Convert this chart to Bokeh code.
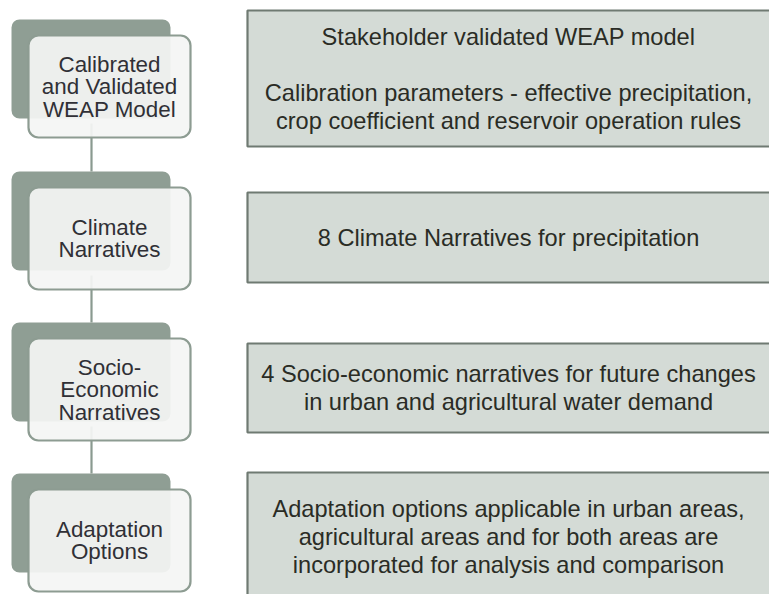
from bokeh.plotting import figure
from bokeh.models import ColumnDataSource, Range1d
from bokeh.core.properties import value
from bokeh.embed import file_html
from bokeh.resources import INLINE

# ---- content ----
step_labels = [
    ["Calibrated", "and Validated", "WEAP Model"],
    ["Climate", "Narratives"],
    ["Socio-", "Economic", "Narratives"],
    ["Adaptation", "Options"],
]
detail_labels = [
    ["Stakeholder validated WEAP model", "",
     "Calibration parameters - effective precipitation,",
     "crop coefficient and reservoir operation rules"],
    ["8 Climate Narratives for precipitation"],
    ["4 Socio-economic narratives for future changes",
     "in urban and agricultural water demand"],
    ["Adaptation options applicable in urban areas,",
     "agricultural areas and for both areas are",
     "incorporated for analysis and comparison"],
]

# ---- layout (pixels, y downwards) ----
step_tops = [19, 171, 322, 473]
dark_l, dark_r, dark_h = 11, 170, 99
light_l, light_r, light_dy, light_h = 28, 190, 16, 102
conn_x = 91
detail_l, detail_r = 247, 776
detail_tops = [10, 192, 343, 472]
detail_bots = [146, 282, 432, 600]

LEFT_FS, LEFT_LH = 22.4, 22.5
RIGHT_FS, RIGHT_LH = 23.6, 28

p = figure(width=769, height=594, x_range=Range1d(0, 769), y_range=Range1d(594, 0),
           output_backend="svg", toolbar_location=None, min_border=0)
p.axis.visible = False
p.grid.visible = False
p.outline_line_color = None
p.background_fill_color = "white"
p.border_fill_color = "white"

# connectors
cx0, cx1, cy0, cy1 = [], [], [], []
for i in range(len(step_tops) - 1):
    cy0.append(step_tops[i] + dark_h + 5)
    cy1.append(step_tops[i + 1])
    cx0.append(conn_x)
    cx1.append(conn_x)
p.segment(x0=cx0, y0=cy0, x1=cx1, y1=cy1, line_color="#8a9a90", line_width=2.2)

# dark back boxes
p.quad(left=[dark_l] * 4, right=[dark_r] * 4,
       top=step_tops, bottom=[t + dark_h for t in step_tops],
       fill_color="#8f9e94", line_color=None, border_radius=8)

# light front boxes
lt = [t + light_dy for t in step_tops]
p.quad(left=[light_l] * 4, right=[light_r] * 4,
       top=lt, bottom=[t + light_h for t in lt],
       fill_color="#f4f5f4", fill_alpha=0.93,
       line_color="#8d9c92", line_width=2.2, border_radius=10)

# right detail boxes
p.quad(left=[detail_l] * 4, right=[detail_r] * 4, top=detail_tops, bottom=detail_bots,
       fill_color="#d4dbd6", line_color="#6f7a72", line_width=2.2)

# left texts
lx, ly, ltxt = [], [], []
for i, lines in enumerate(step_labels):
    c = lt[i] + light_h / 2
    n = len(lines)
    for j, s in enumerate(lines):
        lx.append((light_l + light_r) / 2)
        ly.append(c + (j - (n - 1) / 2) * LEFT_LH)
        ltxt.append(s)
p.text(x="x", y="y", text="t", source=ColumnDataSource(dict(x=lx, y=ly, t=ltxt)),
       text_font=value("Liberation Sans"), text_font_size=f"{LEFT_FS}px",
       text_align="center", text_baseline="alphabetic", text_color="#303036")

# right texts
rx, ry, rtxt = [], [], []
for i, lines in enumerate(detail_labels):
    c = (detail_tops[i] + detail_bots[i]) / 2
    n = len(lines)
    for j, s in enumerate(lines):
        rx.append(508)
        ry.append(c + (j - (n - 1) / 2) * RIGHT_LH)
        rtxt.append(s)
p.text(x="x", y="y", text="t", source=ColumnDataSource(dict(x=rx, y=ry, t=rtxt)),
       text_font=value("Liberation Sans"), text_font_size=f"{RIGHT_FS}px",
       text_align="center", text_baseline="alphabetic", text_color="#2a2c25")

open("out.html", "w").write(file_html(p, INLINE))
